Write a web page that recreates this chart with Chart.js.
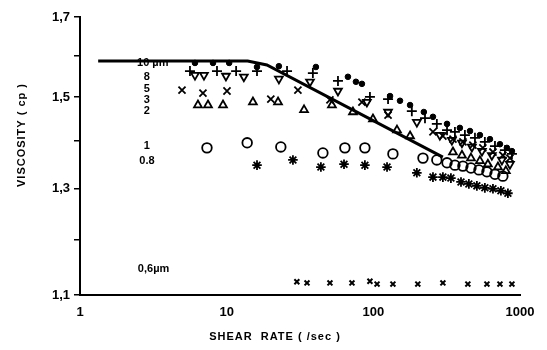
<!DOCTYPE html>
<html>
<head>
<meta charset="utf-8">
<script src="https://cdn.jsdelivr.net/npm/chart.js@4.4.1/dist/chart.umd.min.js"></script>
<style>
  html, body { margin: 0; padding: 0; background: #fff; }
  #wrap { width: 547px; height: 350px; }
</style>
</head>
<body>
<div id="wrap"><canvas id="viscChart" width="547" height="350"></canvas></div>
<script>
// axis ticks
const xTicks = [1, 10, 100, 1000];
const yTicks = [1.1, 1.2, 1.3, 1.4, 1.5, 1.6, 1.7];
const yLabelled = [1.1, 1.3, 1.5, 1.7];

// fitted curve (drawn line)
const curveX = [1.33, 13.9, 18.8, 298];
const curveY = [1.587, 1.587, 1.577, 1.365];

// 10 um - filled dots
const d10x = [6.08, 8.07, 10.4, 16.1, 22.7, 40.6, 67.1, 76.1, 83.6, 130, 152, 178, 221, 255, 318, 389, 456, 533, 624, 730, 814, 881];
const d10y = [1.582, 1.582, 1.582, 1.572, 1.574, 1.572, 1.548, 1.536, 1.531, 1.502, 1.491, 1.481, 1.465, 1.454, 1.438, 1.429, 1.422, 1.413, 1.404, 1.393, 1.385, 1.378];

// 8 um - plus
const d8x = [5.62, 8.59, 11.6, 16.1, 25.8, 38.7, 57.4, 94.8, 126, 183, 225, 271, 318, 360, 421, 493, 576, 675, 789, 881];
const d8y = [1.562, 1.562, 1.562, 1.562, 1.562, 1.557, 1.538, 1.500, 1.495, 1.467, 1.451, 1.438, 1.424, 1.420, 1.413, 1.407, 1.398, 1.389, 1.380, 1.372];

// 5 um - inverted triangle
const d5x = [6.08, 7.00, 9.89, 13.1, 22.7, 37.0, 57.4, 90.4, 126, 198, 284, 343, 402, 470, 550, 643, 753, 854];
const d5y = [1.552, 1.552, 1.550, 1.548, 1.543, 1.536, 1.514, 1.488, 1.465, 1.442, 1.413, 1.402, 1.396, 1.387, 1.378, 1.369, 1.359, 1.350];

// 3 um - X
const d3x = [4.96, 6.89, 10.05, 20.0, 30.6, 50.6, 83.6, 126, 255, 298, 349, 408, 477, 558, 654, 764, 854];
const d3y = [1.516, 1.509, 1.514, 1.495, 1.516, 1.493, 1.488, 1.458, 1.420, 1.411, 1.404, 1.398, 1.391, 1.385, 1.376, 1.369, 1.363];

// 2 um - triangle
const d2x = [6.37, 7.46, 9.44, 15.1, 22.4, 33.7, 52.2, 72.6, 99.4, 145, 178, 349, 402, 463, 533, 604, 707, 801];
const d2y = [1.481, 1.481, 1.481, 1.488, 1.488, 1.470, 1.481, 1.465, 1.449, 1.424, 1.411, 1.376, 1.369, 1.363, 1.357, 1.350, 1.344, 1.336];

// 1 um - open circle
const d1x = [7.34, 13.8, 23.4, 45.3, 64.0, 87.6, 136, 218, 271, 318, 360, 408, 463, 525, 595, 675, 764];
const d1y = [1.385, 1.396, 1.387, 1.374, 1.385, 1.385, 1.372, 1.363, 1.359, 1.353, 1.348, 1.346, 1.342, 1.338, 1.334, 1.329, 1.325];

// 0.8 um - star
const d08x = [16.1, 28.3, 43.9, 63.1, 87.6, 124, 198, 255, 298, 338, 396, 448, 508, 576, 654, 741, 827];
const d08y = [1.348, 1.359, 1.344, 1.350, 1.348, 1.344, 1.332, 1.323, 1.323, 1.321, 1.313, 1.309, 1.305, 1.301, 1.299, 1.295, 1.290];

// 0.6 um - small x
const d06x = [30.1, 35.3, 50.6, 71.5, 94.8, 106, 136, 201, 298, 441, 595, 730, 881];
const d06y = [1.123, 1.121, 1.121, 1.121, 1.124, 1.119, 1.119, 1.119, 1.121, 1.119, 1.119, 1.119, 1.119];

// in-plot size labels
const sizeLabels = ['10 \u00b5m', '8', '5', '3', '2', '1', '0.8', '0,6\u00b5m'];
const sizeLabelX = [2.45, 2.86, 2.86, 2.86, 2.86, 2.86, 2.86, 2.48];
const sizeLabelY = [1.582, 1.548, 1.519, 1.493, 1.467, 1.389, 1.357, 1.146];

function pts(xs, ys) {
    return xs.map((x, i) => ({ x: x, y: ys[i] }));
}

const FONT = '"Liberation Sans", Arial, sans-serif';

const textPlugin = {
    id: 'textPlugin',
    afterDraw(chart) {
        const ctx = chart.ctx;
        const xs = chart.scales.x;
        const ys = chart.scales.y;
        ctx.save();
        ctx.fillStyle = '#000';
        ctx.textBaseline = 'middle';
        ctx.font = 'bold 11px ' + FONT;
        sizeLabels.forEach((t, i) => {
            ctx.textAlign = t.includes('\u00b5') ? 'left' : 'center';
            ctx.fillText(t, xs.getPixelForValue(sizeLabelX[i]), ys.getPixelForValue(sizeLabelY[i]));
        });

        // axis titles
        ctx.font = 'bold 11px ' + FONT;
        ctx.letterSpacing = '1px';
        ctx.textAlign = 'center';
        ctx.fillText('SHEAR  RATE ( /sec )', 275, 337);
        ctx.translate(22, 135);
        ctx.rotate(-Math.PI / 2);
        ctx.fillText('VISCOSITY ( cp )', 0, 0);
        ctx.restore();
    }
};

const ctx = document.getElementById('viscChart').getContext('2d');

new Chart(ctx, {
    type: 'scatter',
    data: {
        datasets: [
            {
                type: 'line',
                data: pts(curveX, curveY),
                borderColor: '#000',
                borderWidth: 3,
                pointRadius: 0,
                tension: 0,
                fill: false
            },
            {
                data: pts(d10x, d10y),
                pointStyle: 'circle',
                pointRadius: 2.8,
                backgroundColor: '#000',
                borderColor: '#000',
                borderWidth: 1
            },
            {
                data: pts(d8x, d8y),
                pointStyle: 'cross',
                pointRadius: 5,
                borderColor: '#000',
                borderWidth: 1.8
            },
            {
                data: pts(d5x, d5y),
                pointStyle: 'triangle',
                rotation: 180,
                pointRadius: 4.5,
                backgroundColor: 'rgba(255,255,255,0)',
                borderColor: '#000',
                borderWidth: 1.8
            },
            {
                data: pts(d3x, d3y),
                pointStyle: 'crossRot',
                pointRadius: 5,
                borderColor: '#000',
                borderWidth: 1.8
            },
            {
                data: pts(d2x, d2y),
                pointStyle: 'triangle',
                pointRadius: 4.5,
                backgroundColor: 'rgba(255,255,255,0)',
                borderColor: '#000',
                borderWidth: 1.8
            },
            {
                data: pts(d1x, d1y),
                pointStyle: 'circle',
                pointRadius: 4.8,
                backgroundColor: 'rgba(255,255,255,0)',
                borderColor: '#000',
                borderWidth: 1.8
            },
            {
                data: pts(d08x, d08y),
                pointStyle: 'star',
                pointRadius: 4.8,
                borderColor: '#000',
                borderWidth: 1.8
            },
            {
                data: pts(d06x, d06y),
                pointStyle: 'crossRot',
                pointRadius: 3.5,
                borderColor: '#000',
                borderWidth: 2
            }
        ]
    },
    options: {
        responsive: false,
        animation: false,
        devicePixelRatio: 1,
        layout: { padding: { top: 17, right: 27, left: 0, bottom: 0 } },
        plugins: {
            legend: { display: false },
            tooltip: { enabled: false }
        },
        scales: {
            x: {
                type: 'logarithmic',
                min: 1,
                max: 1000,
                afterFit(scale) { scale.height = 55; },
                afterBuildTicks(scale) { scale.ticks = xTicks.map(v => ({ value: v })); },
                border: { display: true, color: '#000', width: 2 },
                grid: { display: false, drawTicks: false },
                ticks: {
                    color: '#000',
                    padding: 10,
                    maxRotation: 0,
                    font: { family: FONT, size: 13, weight: 'bold' },
                    callback: v => String(v)
                }
            },
            y: {
                type: 'logarithmic',
                min: 1.1,
                max: 1.7,
                afterFit(scale) { scale.width = 80; },
                afterBuildTicks(scale) { scale.ticks = yTicks.map(v => ({ value: v })); },
                border: { display: true, color: '#000', width: 2 },
                grid: { display: true, drawOnChartArea: false, color: '#000', lineWidth: 1.5, tickLength: 6 },
                ticks: {
                    color: '#000',
                    padding: 4,
                    font: { family: FONT, size: 13, weight: 'bold' },
                    callback: v => yLabelled.some(t => Math.abs(t - v) < 1e-6) ? v.toFixed(1).replace('.', ',') : ''
                }
            }
        }
    },
    plugins: [textPlugin]
});
</script>
</body>
</html>
